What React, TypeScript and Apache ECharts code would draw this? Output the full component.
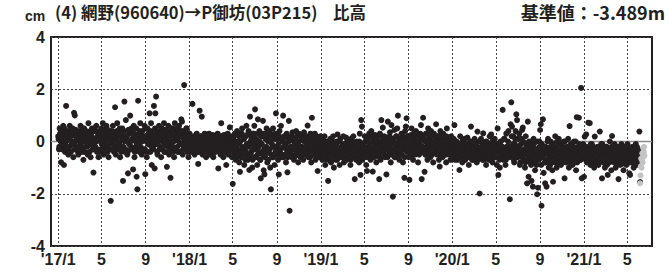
import React, { useEffect, useRef } from "react";
import * as echarts from "echarts";

const DAY = 86400000;
const BASE = Date.UTC(2017, 0, 1);
const STEP_DAYS = 2;

const tickDates = [
  "2017-01-01", "2017-05-01", "2017-09-01",
  "2018-01-01", "2018-05-01", "2018-09-01",
  "2019-01-01", "2019-05-01", "2019-09-01",
  "2020-01-01", "2020-05-01", "2020-09-01",
  "2021-01-01", "2021-05-01",
];
const tickLabels = ["'17/1", "5", "9", "'18/1", "5", "9", "'19/1", "5", "9", "'20/1", "5", "9", "'21/1", "5"];

// final solutions (cm): even days (Jan 1, 3, 5, ...) of each year
const v2017 = [
  .2,-.3,.5,.1,-.8,.3,-.1,.6,-.9,0,
  .4,1.36,-.2,.3,-.5,.1,.6,-.4,.2,-.1,
  .5,-.6,1.1,1.0,0,-.3,.4,.2,-.5,.3,
  -.2,.6,.1,-.4,.3,-.7,.5,0,-.2,.4,
  .1,-.5,.7,-.1,.3,-.6,.2,.5,-.3,-1.19,
  .4,-.2,0,.6,-.4,.2,-.6,.3,.1,-.3,
  .5,-.1,.7,-.5,.2,0,-.4,.6,-.2,.3,
  -.6,.1,.4,-2.27,.2,-.3,.6,-.1,.3,1.31,
  -.5,.2,.7,-.2,0,.4,-.6,.3,-.3,.5,
  -1.51,.1,1.53,-.4,.82,.2,-.5,-1.22,.4,-.1,
  .99,-.3,.5,.1,-1.07,.6,-.6,.2,-.2,-1.35,
  -1.83,1.56,.3,-.4,.7,0,-.5,.4,.1,-.3,
  .6,-1.25,.2,-.6,.5,-.1,.3,1.08,-.4,.7,
  -.9,.2,-.2,1.36,-1.03,1.08,1.72,.4,-.5,.1,
  .6,-.3,.3,-.6,.5,0,-.2,.7,.1,-.4,
  .4,-.97,.2,.6,-.5,.3,-1.39,0,.5,-.2,
  .3,-.6,.7,.1,-.3,.5,-.4,.2,.6,-.1,
  .4,.85,.76,-.5,.2,2.16,0,-.3,.5,-.2,.3,-.6,.1,
];
const v2018 = [
  -.1,.2,-.4,0,1.44,-.3,.1,-.5,.2,-.2,
  .3,-.4,-.86,0,1.18,-.2,.2,.95,-.5,.1,
  -.3,.3,-.1,-.6,.2,-.4,0,.3,-.2,-.5,
  .1,-.3,.25,-.6,-.1,.2,-.4,0,-.2,.3,
  -1.03,-.1,.2,-.5,.7,-.3,.1,-.6,.25,-.2,
  -.4,-.9,0,.3,-.5,-.1,.54,-.3,.2,-.6,
  -1.62,.1,-.4,.3,-.7,-.2,.4,-.5,0,-.8,
  -1.16,.3,-.3,.5,-.6,.1,-.9,.2,-.4,.6,
  -.2,-.7,.4,-1.09,.95,-.5,.1,-1.0,.3,-.3,
  .6,1.23,-.6,0,-.9,.85,-.2,.4,-.7,-1.41,
  .2,-.4,.79,-1.1,-1.26,.3,-.5,.5,-.8,0,
  -.3,.4,-1.0,-1.83,.1,-.6,.5,-.2,-.9,.3,
  1.08,-.4,.2,-.7,-1.26,.4,-.3,.6,-.5,.1,
  .99,-.6,.2,-.2,-.8,.3,-1.18,0,.79,-2.65,
  -.4,.2,-.6,.35,-.2,-.7,.1,-.3,.4,-.5,
  0,-.8,.3,-.2,-.6,.2,-.4,.1,-.7,.35,
  -.3,-.5,.2,-.1,.61,-.6,0,-.4,.3,-.8,
  .91,-.2,.1,-.5,.3,-.7,-.1,.2,-1.13,-.4,.1,-.6,.2,
];
const v2019 = [
  -.3,.1,-.7,-.2,-.5,.2,-.9,-.1,-.4,0,
  -1.51,-.3,-.6,.1,-.8,-.2,-.5,.2,-1.0,-.4,
  -.1,-.7,0,.27,-.5,-.3,-.9,.1,-.6,-.2,
  -.4,.2,-.8,-.1,-.5,.15,-.7,-.3,0,-.6,
  -.2,-.9,.1,-.4,-.6,.2,-.3,-1.44,-.1,-.7,
  0,-.5,-.2,-.8,.3,-1.28,.82,.57,-.4,-.1,
  -.6,.2,-.3,-.9,-1.13,.1,-.5,.3,-.2,-.7,
  .4,-.4,-1.15,0,-.6,.25,-.3,-.8,.1,-.2,
  -.5,-1.44,.3,-.7,.82,-.1,.53,-.4,.2,-.6,
  -.2,-1.26,.1,.76,-.5,-.3,.35,-.8,.63,0,
  -2.11,-.4,.44,-.1,-.6,.2,.5,.99,-.3,-.7,
  .1,-.5,.3,-.2,-.8,0,-1.39,.4,.57,.89,
  -.3,.2,-.6,-1.47,.1,-.4,.5,-.2,-.7,.3,
  -.1,-.5,.4,-.3,0,-.8,.2,-.4,.3,.63,
  -1.44,-.2,.91,.1,-1.16,-.5,.3,-.3,-.7,.5,
  -.1,.2,-.6,.4,-.4,0,-.8,.3,-.2,.1,
  .66,-.5,.2,-.3,-.7,-.96,.4,-.1,0,-.6,
  .3,-.4,.2,-.2,-.8,.5,-.3,0,-.5,.1,-.7,.2,-.4,
];
const v2020 = [
  -.2,-.5,.1,.63,-.7,-.3,0,-.6,-.1,-.4,
  -1.09,.2,-.5,-.2,-.8,0,-.4,.1,-.7,-.3,
  -.6,.15,-.2,-.9,-.4,0,.57,-.5,-.1,-.7,
  -.3,.1,-.6,-.2,-.8,.38,-.4,0,-1.99,-.5,
  .1,-.3,-.7,.31,-.2,-.6,-.1,-.9,0,-.4,
  -.2,-.7,.2,-.5,.27,-.3,-.8,-.1,-.4,.1,
  -.6,-.2,-.9,.5,-1.28,-.3,-1.0,0,-.5,-.2,
  1.21,-.7,.1,-.4,-.9,.3,-.2,-.6,.4,-.3,
  -2.21,.66,1.5,.57,-.5,.2,-.8,-.1,.4,1.04,
  .82,-.6,-.2,.3,-.9,-.4,.1,.44,.53,-.7,
  -.3,-1.0,.2,-.5,-1.6,.76,-1.35,-.2,-.8,0,
  -1.51,-.4,-1.73,.1,-.7,-1.1,-.3,-.9,-2.02,-1.77,
  -.5,0,.44,.66,-2.46,-.6,.85,-1.2,-.2,-1.6,
  -.8,-1.73,-.3,.1,-1.0,-.5,-.9,0,-.6,-1.1,
  -1.54,-.2,-.7,.2,-.4,-1.0,-.3,-.8,.1,-.6,
  -.4,-.9,-.1,-.7,-.3,0,-1.41,-.5,-.8,-.2,
  -.6,.1,-1.0,.59,-.4,-.7,-.2,-.9,-.5,0,
  -.8,-.3,-1.1,.93,-.6,-.2,.91,-.7,-.4,2.05,-1.41,-.5,-.1,
];
const v2021 = [
  -1.35,.19,-.5,.27,-.8,-.3,.72,-.6,.7,-.9,
  -.4,-.1,-.7,-.5,-1.0,.19,-.3,-.8,-.6,-.2,
  -.9,-.4,.38,-.7,-.1,-1.41,-.5,-.8,-.3,-1.0,
  -.6,-.2,-.9,-1.28,-.4,-.7,0,-.5,-1.1,.21,
  -.6,-.3,-.8,-.4,-1.0,-.2,-.7,-.5,-1.44,-.3,
  -.9,-.6,-.1,-.8,-.4,-1.1,-.5,-.2,-.7,-.9,
  -.4,-.6,-.2,-1.22,-1.28,-.5,-.8,-.3,-.7,-1.0,
  -.4,-.6,-.1,-.9,-.5,-.3,-.8,.38,-1.55,
];

// final solutions (cm): odd days (Jan 2, 4, 6, ...) of each year
const o2017 = [
  .1,-.2,.3,0,.4,-.3,.2,-.1,.5,-.4,
  .2,0,-.3,.4,.1,-.2,.3,-.4,.5,0,
  -.1,.3,-.3,.2,.45,-.2,.1,-.4,.3,0,
  .4,-.1,.2,-.3,.5,.1,-.4,.2,0,.35,
  -.2,.3,.1,-.4,.4,-.1,.2,0,-.3,.5,
  .1,-.2,.4,0,-.3,.3,.1,-.4,.2,.45,
  -.1,.2,-.3,.4,0,.1,-.2,.5,-.4,.2,
  .3,-.1,.1,-.3,.4,0,.2,-.4,.35,-.2,
  .1,.4,-.3,.2,-.1,.5,0,-.4,.3,.1,
  -.2,.4,0,-.3,.2,.1,-.4,.45,-.1,.3,
  0,-.2,.4,-.3,.1,.3,-.4,0,.5,-.1,
  .2,-.3,.1,.4,-.2,.3,0,-.4,.2,.1,
  -.3,.5,0,.2,-.4,.3,-.1,.1,.4,-.2,
  .3,0,-.3,.2,.5,-.1,.1,-.4,.3,0,
  .2,-.2,.4,.1,-.3,.3,0,-.4,.45,-.1,
  .1,.3,-.2,0,.4,-.3,.2,-.1,.5,-.4,
  0,.2,-.3,.35,.1,-.2,.4,0,-.4,.3,
  .2,-.1,.4,-.3,.1,.3,-.2,0,.5,-.4,.2,-.1,.3,
];
const o2018 = [
  -.1,.1,-.3,0,-.2,.2,-.4,-.1,.1,-.3,
  0,-.2,.15,-.4,-.1,.2,-.3,0,-.2,.1,
  -.4,-.1,.2,-.2,0,-.3,.1,-.45,-.1,.2,
  -.2,0,-.3,.1,-.4,-.1,.2,-.2,0,-.35,
  .1,-.2,-.4,0,.2,-.3,-.1,.1,-.4,0,
  -.2,.15,-.3,-.1,.2,-.4,0,-.2,.1,-.3,
  -.1,.2,-.5,0,-.3,.3,-.6,-.1,.2,-.4,
  0,-.6,.3,-.2,-.5,.1,-.3,-.7,.2,-.1,
  -.5,.3,-.2,-.6,0,-.4,.2,-.7,-.1,.3,
  -.3,-.6,.1,-.2,-.5,.3,-.4,0,-.7,.2,
  -.1,-.5,.3,-.3,-.6,.1,-.2,-.4,.2,-.7,
  0,-.3,.3,-.5,-.1,.2,-.6,-.2,.1,-.4,
  -.2,.1,-.5,-.1,.2,-.4,-.3,.1,-.6,0,
  -.2,.2,-.5,-.1,-.3,.15,-.6,0,-.4,.1,
  -.2,-.5,.2,-.3,0,-.6,.1,-.2,-.4,.2,
  -.1,-.5,0,-.3,.2,-.6,-.2,.1,-.4,0,
  -.3,.2,-.5,-.1,-.4,.1,-.2,-.6,0,-.3,
  .2,-.4,-.1,-.5,.1,-.3,0,-.6,-.2,.15,-.4,-.1,-.3,
];
const o2019 = [
  -.3,-.5,-.1,-.6,-.2,-.4,0,-.7,-.3,-.5,
  -.2,-.6,-.1,-.4,-.75,-.3,0,-.5,-.2,-.6,
  -.4,-.1,-.7,-.3,-.5,0,-.4,-.6,-.2,-.35,
  -.6,-.1,-.4,-.7,-.2,-.5,0,-.3,-.6,-.15,
  -.4,-.7,-.2,-.5,0,-.3,-.6,-.1,-.4,-.5,
  -.2,-.6,-.3,0,-.5,-.1,-.4,-.7,-.2,-.3,
  -.5,0,-.3,-.6,.1,-.2,-.4,-.1,-.5,.2,
  -.3,0,-.6,-.2,.1,-.4,-.1,-.5,.2,-.3,
  -.1,-.6,0,-.3,.2,-.4,-.2,.1,-.5,-.1,
  .15,-.3,-.6,0,-.2,.2,-.4,-.1,-.5,.1,
  -.3,0,-.6,-.2,.2,-.4,-.1,-.5,.1,-.3,
  0,-.2,-.5,.2,-.3,-.1,-.6,.1,-.2,-.4,
  .2,-.1,-.4,0,-.3,.25,-.2,-.5,.1,-.1,
  -.3,.2,-.4,0,-.2,.3,-.5,-.1,.1,-.3,
  .2,-.2,-.4,.1,0,-.5,.3,-.2,-.1,-.4,
  .1,-.3,.2,-.1,-.5,0,.25,-.2,-.4,.1,
  -.1,-.3,.2,0,-.5,.1,-.2,.3,-.4,-.1,
  .1,-.3,0,-.5,.2,-.2,-.1,-.4,.15,-.3,0,-.5,-.2,
];
const o2020 = [
  -.3,-.1,-.5,-.2,-.6,0,-.4,-.7,-.2,-.35,
  -.5,-.1,-.6,-.3,.05,-.4,-.2,-.7,-.3,-.5,
  -.1,-.4,-.6,-.2,-.5,0,-.3,-.7,-.4,-.15,
  -.6,-.3,-.1,-.5,-.2,-.7,-.4,0,-.3,-.6,
  -.2,-.5,-.1,-.4,-.7,-.3,0,-.5,-.2,-.6,
  -.4,-.1,-.3,-.7,-.2,-.5,.05,-.4,-.6,-.2,
  -.3,-.6,-.1,-.4,-.2,-.7,-.3,0,-.5,-.2,
  -.6,-.3,.1,-.4,-.7,-.2,-.5,0,-.3,-.6,
  -.2,-.4,.2,-.5,-.1,-.7,-.3,.1,-.4,-.6,
  -.2,.1,-.5,-.3,-.8,-.1,-.4,-.6,0,-.5,
  -.3,-.8,-.1,-.5,-.4,-.7,0,-.6,-.3,-.9,
  -.2,-.5,-.7,-.1,-.4,-.8,-.3,-.6,0,-.5,
  -.7,-.2,-.4,-.9,-.1,-.6,-.3,-.5,-.8,-.2,
  -.4,-.7,0,-.5,-.3,-.8,-.2,-.6,-.4,-.1,
  -.6,-.3,-.8,-.2,-.5,0,-.7,-.4,-.6,-.1,
  -.5,-.3,-.8,-.2,-.6,-.4,0,-.7,-.3,-.5,
  -.2,-.6,-.4,-.8,-.1,-.5,-.3,-.7,-.2,-.6,
  -.4,0,-.5,-.8,-.3,-.6,-.1,-.4,-.7,-.3,-.5,-.2,-.6,
];
const o2021 = [
  -.5,-.3,-.7,-.2,-.6,-.4,-.8,-.3,-.5,-.1,
  -.6,-.4,-.8,-.2,-.5,-.7,-.3,-.6,-.4,-.85,
  -.2,-.5,-.7,-.3,-.6,-.1,-.4,-.8,-.5,-.3,
  -.6,-.2,-.7,-.4,-.5,-.8,-.3,-.6,-.2,-.5,
  -.7,-.4,-.1,-.6,-.3,-.8,-.5,-.2,-.6,-.4,
  -.7,-.3,-.5,-.85,-.2,-.6,-.4,-.7,-.3,-.5,
  -.1,-.6,-.4,-.8,-.3,-.5,-.7,-.2,-.6,-.4,
  -.8,-.3,-.5,-.2,-.7,-.4,-.6,
];

// rapid solutions (cm), daily from rapidStart
const rapidStart = "2021-06-06";
const rapidValues = [-1.6, -1.3, -.95, -.65, -1.0, -.7, -.45, -.8, -.5, -.25, -.4, -.2, -.55];

const finalYears: [number, number[], number[]][] = [
  [2017, v2017, o2017], [2018, v2018, o2018], [2019, v2019, o2019],
  [2020, v2020, o2020], [2021, v2021, o2021],
];

const dayOf = (s: string) => (Date.parse(s + "T00:00:00Z") - BASE) / DAY;
const tickDays = tickDates.map(dayOf);

const finalData: number[][] = [];
finalYears.forEach(([y, even, odd]) => {
  const start = (Date.UTC(y, 0, 1) - BASE) / DAY;
  odd.forEach((v, i) => finalData.push([start + 1 + i * STEP_DAYS, v]));
  even.forEach((v, i) => finalData.push([start + i * STEP_DAYS, v]));
});
const rapidData = rapidValues.map((v, i) => [dayOf(rapidStart) + i, v]);

const X_MIN = -20;
const X_MAX = 1650;
const INK = "#231f20";
const FONT = '"Liberation Sans", "Noto Sans CJK JP", sans-serif';
const JFONT = '"Noto Sans CJK JP", sans-serif';

export default function App() {
  const ref = useRef<HTMLDivElement>(null);
  useEffect(() => {
    if (!ref.current) return;
    const chart = echarts.init(ref.current, null, { renderer: "svg" });
    chart.setOption({
      animation: false,
      backgroundColor: "#ffffff",
      grid: {
        left: 51, right: 17, top: 37, bottom: 30,
        show: true, borderColor: INK, borderWidth: 2, backgroundColor: "transparent",
      },
      graphic: [
        { type: "text", left: 25, top: 9, style: { text: "cm", font: `bold 14px ${FONT}`, fill: INK } },
        { type: "text", left: 55, top: 4, style: { text: "(4) 網野(960640)→P御坊(03P215)", font: `bold 16.5px ${JFONT}`, fill: INK } },
        { type: "text", left: 333, top: 4, style: { text: "比高", font: `bold 16.5px ${JFONT}`, fill: INK } },
        { type: "text", right: 4, top: 3, style: { text: "基準値：-3.489m", font: `bold 18px ${JFONT}`, fill: INK } },
      ],
      xAxis: {
        type: "value",
        min: X_MIN,
        max: X_MAX,
        axisLine: { show: false },
        axisTick: { show: false, customValues: tickDays },
        axisLabel: {
          customValues: tickDays,
          formatter: (v: number) => {
            const k = tickDays.indexOf(v);
            return k >= 0 ? tickLabels[k] : "";
          },
          color: INK,
          fontFamily: FONT,
          fontWeight: "bold",
          fontSize: 16,
          margin: 5,
        },
        splitLine: { show: true, lineStyle: { color: "#444", type: [2, 2], width: 1 } },
      },
      yAxis: {
        type: "value",
        min: -4,
        max: 4,
        interval: 2,
        axisLine: { show: false },
        axisTick: { show: false },
        axisLabel: { color: INK, fontFamily: FONT, fontWeight: "bold", fontSize: 16, margin: 6 },
        splitLine: { show: true, lineStyle: { color: "#444", type: [2, 2], width: 1 } },
      },
      series: [
        {
          type: "line",
          data: [[X_MIN, 0], [X_MAX, 0]],
          symbol: "none",
          lineStyle: { color: "#8c8c8c", width: 1.5 },
          silent: true,
          z: 1,
        },
        {
          type: "scatter",
          data: finalData,
          symbolSize: 6,
          itemStyle: { color: INK, opacity: 1 },
          z: 2,
        },
        {
          type: "scatter",
          data: rapidData,
          symbolSize: 6,
          itemStyle: { color: "#c4c4c4", opacity: 1 },
          z: 3,
        },
      ],
    });
    return () => chart.dispose();
  }, []);
  return <div ref={ref} style={{ position: "absolute", left: 0, top: 0, width: 669, height: 276 }} />;
}
